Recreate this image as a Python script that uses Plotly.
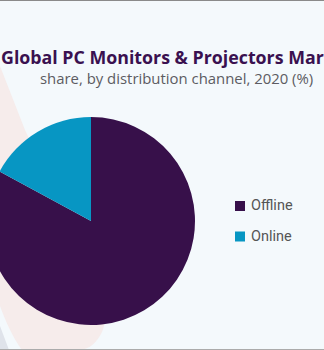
import plotly.graph_objects as go

# ---- data ----
labels = ["Offline", "Online"]
values = [82.9, 17.1]
colors = ["#37104a", "#0796c3"]
title_text = "Global PC Monitors & Projectors Market"
subtitle_text = "share, by distribution channel, 2020 (%)"

# ---- geometry helpers (page pixels -> paper fractions) ----
W, H = 337, 350
SHIFT = 13  # pixels of the figure hidden past the left edge of the page


def px(x):
    return (x + SHIFT) / W


def py(y):
    return 1 - y / H


def path(points_cmds):
    out = []
    for cmd, *pts in points_cmds:
        coords = []
        for i in range(0, len(pts), 2):
            coords.append(f"{px(pts[i]):.5f},{py(pts[i+1]):.5f}")
        out.append(cmd + " ".join(coords))
    return " ".join(out) + " Z"


cx, cy, r = 91, 221, 104

fig = go.Figure(
    go.Pie(
        labels=labels,
        values=values,
        marker=dict(colors=colors, line=dict(width=0)),
        sort=False,
        direction="clockwise",
        textinfo="none",
        hoverinfo="label+percent",
        showlegend=False,
        domain=dict(x=[px(cx - r), px(cx + r)], y=[py(cy + r), py(cy - r)]),
    )
)

pink = path([
    ("M", 0, 66),
    ("L", 25, 130),
    ("L", 88, 262),
    ("C", 102, 292, 110, 315, 102, 332),
    ("C", 97, 342, 90, 350, 78, 350),
    ("L", 22, 350),
    ("C", 13, 338, 5, 320, 0, 306),
])
gray = path([("M", 0, 326), ("L", 9, 350), ("L", 0, 350)])

shapes = [
    dict(type="path", path=pink, xref="paper", yref="paper",
         fillcolor="#f6eceb", line=dict(width=0), layer="below"),
    dict(type="path", path=gray, xref="paper", yref="paper",
         fillcolor="#dfe3ea", line=dict(width=0), layer="below"),
    dict(type="line", xref="paper", yref="paper", x0=0, x1=1,
         y0=py(0.5), y1=py(0.5), line=dict(color="#8a8a8a", width=1)),
    dict(type="line", xref="paper", yref="paper", x0=0, x1=1,
         y0=py(349.5), y1=py(349.5), line=dict(color="#ababab", width=1)),
]

# manual legend
leg_y = [206, 236.5]
annotations = [
    dict(text=f"<b>{title_text}</b>", x=px(-1.5), y=py(57.5), xref="paper", yref="paper",
         xanchor="left", yanchor="middle", showarrow=False,
         font=dict(family="Open Sans", size=17.8, color="#3a1150")),
    dict(text=subtitle_text, x=px(176), y=py(78), xref="paper", yref="paper",
         xanchor="center", yanchor="middle", showarrow=False,
         font=dict(family="Open Sans", size=14.9, color="#5c5c62")),
]
for lab, col, yy in zip(labels, colors, leg_y):
    shapes.append(dict(type="rect", xref="paper", yref="paper",
                       x0=px(235), x1=px(245), y0=py(yy - 5), y1=py(yy + 5),
                       fillcolor=col, line=dict(width=0)))
    annotations.append(dict(text=lab, x=px(249), y=py(yy), xref="paper", yref="paper",
                            xanchor="left", yanchor="middle", showarrow=False,
                            font=dict(family="Roboto", size=14.5, color="#555555")))

fig.update_layout(
    width=W, height=H,
    margin=dict(l=0, r=0, t=0, b=0),
    paper_bgcolor="#f4f9fc",
    plot_bgcolor="#f4f9fc",
    shapes=shapes,
    annotations=annotations,
)

fig.write_html(
    "out.html",
    config={"displayModeBar": False},
    post_script=f"document.getElementById('{{plot_id}}').style.marginLeft='-{SHIFT}px';",
)
